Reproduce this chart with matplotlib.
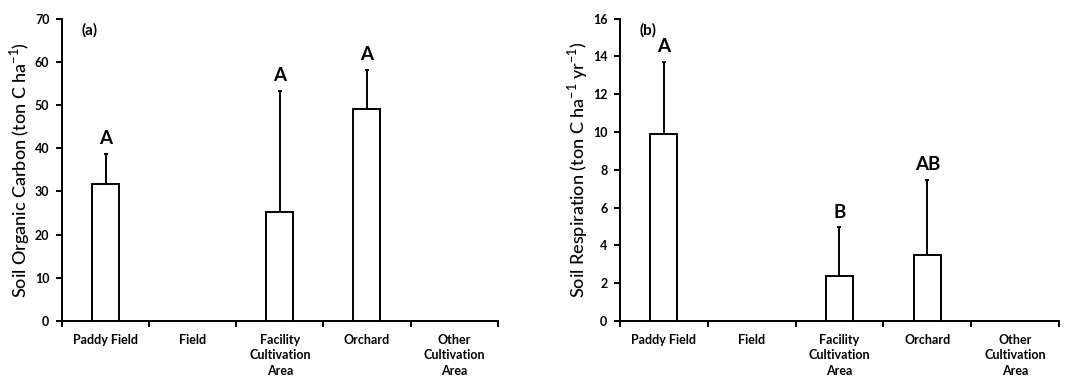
import matplotlib
matplotlib.use("Agg")
import matplotlib.pyplot as plt
import numpy as np

categories = ["Paddy Field", "Field", "Facility\nCultivation\nArea", "Orchard", "Other\nCultivation\nArea"]
soc_values = [31.8, 0, 25.2, 49.0, 0]
soc_err = [6.9, 0, 28.1, 9.0, 0]
soc_letters = ["A", "", "A", "A", ""]
sr_values = [9.9, 0, 2.4, 3.5, 0]
sr_err = [3.8, 0, 2.55, 3.95, 0]
sr_letters = ["A", "", "B", "AB", ""]

plt.rcParams['font.family'] = ['Lato', 'DejaVu Sans']

fig = plt.figure(figsize=(10.68, 3.79), dpi=100)
axA = fig.add_axes([0.058, 0.153, 0.408, 0.798])
axB = fig.add_axes([0.5805, 0.153, 0.411, 0.798])

def draw(ax, vals, errs, letters, ymax, ystep, ylabel, tag):
    x = np.arange(len(categories))
    shown = [i for i, v in enumerate(vals) if v > 0]
    ax.bar([x[i] for i in shown], [vals[i] for i in shown], width=0.31,
           color="white", edgecolor="black", linewidth=1.4, zorder=2)
    ax.errorbar([x[i] for i in shown], [vals[i] for i in shown],
                yerr=[[0]*len(shown), [errs[i] for i in shown]],
                fmt="none", ecolor="black", elinewidth=1.4, capsize=1.5,
                capthick=1.4, zorder=1)
    for i in shown:
        ax.annotate(letters[i], (x[i], vals[i] + errs[i]), xytext=(0, 5),
                    textcoords="offset points", ha="center", va="bottom",
                    fontsize=13.5, fontweight="bold")
    ax.set_xlim(-0.5, len(categories) - 0.5)
    ax.set_ylim(0, ymax)
    ax.set_yticks(np.arange(0, ymax + 0.1, ystep))
    ax.set_xticks(x)
    ax.set_xticklabels(categories, fontsize=9, fontweight="bold", linespacing=1.35)
    ax.set_xticks(np.arange(-0.5, len(categories)), minor=True)
    ax.tick_params(axis="x", which="major", length=0, pad=9)
    ax.tick_params(axis="x", which="minor", length=4, width=1.4, direction="out")
    ax.tick_params(axis="y", length=4, width=1.4, direction="out", labelsize=9, pad=5)
    for lab in ax.get_yticklabels():
        lab.set_fontweight("bold")
    ax.spines["top"].set_visible(False)
    ax.spines["right"].set_visible(False)
    ax.spines["left"].set_linewidth(1.4)
    ax.spines["bottom"].set_linewidth(1.4)
    ax.set_ylabel(ylabel, fontsize=13, labelpad=2, fontweight="medium")
    ax.text(0.045, 0.985, tag, transform=ax.transAxes, fontsize=11,
            fontweight="bold", va="top", ha="left")

draw(axA, soc_values, soc_err, soc_letters, 70, 10,
     r"Soil Organic Carbon (ton C ha$^{\mathregular{-1}}$)", "(a)")
draw(axB, sr_values, sr_err, sr_letters, 16, 2,
     r"Soil Respiration (ton C ha$^{\mathregular{-1}}$ yr$^{\mathregular{-1}}$)", "(b)")

fig.savefig("out.png", dpi=100)
